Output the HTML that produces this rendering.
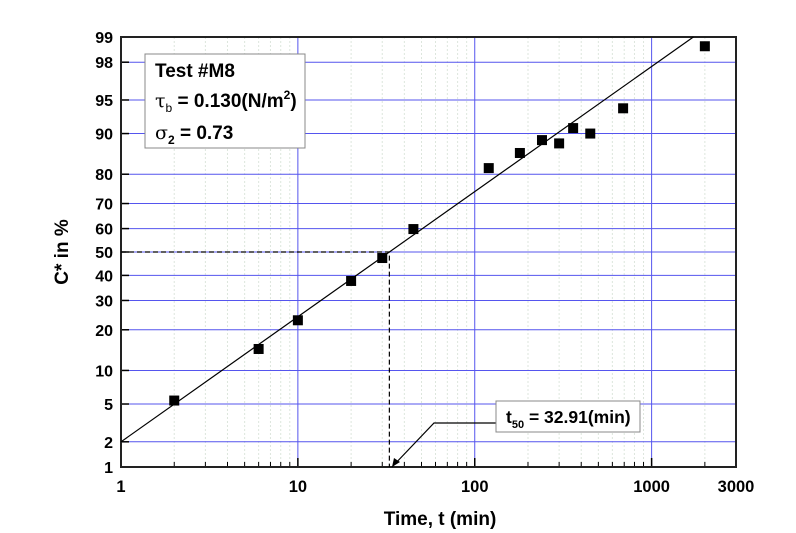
<!DOCTYPE html>
<html><head><meta charset="utf-8"><style>
body{margin:0;background:#fff}
svg{display:block;font-family:"Liberation Sans",sans-serif;font-weight:bold}
</style></head><body>
<svg id="chart" width="796" height="533" viewBox="0 0 796 533">
<g id="grid"></g>
<g id="axes"></g>
<g id="marks"></g>
<text x="440" y="525" font-size="19" text-anchor="middle">Time, t (min)</text>
<text x="0" y="0" font-size="19" text-anchor="middle" transform="translate(68,252) rotate(-90)">C* in %</text>
<g>
<rect x="145" y="54" width="160" height="94" fill="#fff" stroke="#888" stroke-width="1"/>
<text x="155" y="77" font-size="19">Test #M8</text>
<text x="155" y="107" font-size="19"><tspan font-family="DejaVu Serif,serif" font-weight="normal">τ</tspan><tspan font-size="12" font-weight="normal" dy="5">b</tspan><tspan dy="-5"> = 0.130(N/m</tspan><tspan font-size="12" dy="-8">2</tspan><tspan dy="8">)</tspan></text>
<text x="155" y="139" font-size="19"><tspan font-family="DejaVu Serif,serif" font-weight="normal">σ</tspan><tspan font-size="12" dy="5">2</tspan><tspan dy="-5"> = 0.73</tspan></text>
</g>
<g>
<polyline points="392,467 434,423 496,423" fill="none" stroke="#000" stroke-width="1.2"/>
<polygon points="392,467 394,458 400,462" fill="#000"/>
<rect x="496" y="401" width="144" height="31" fill="#fff" stroke="#888"/>
<text x="506" y="423" font-size="17.5">t<tspan font-size="11" dy="5">50</tspan><tspan dy="-5"> = 32.91(min)</tspan></text>
</g>
</svg>
<script>
const xTickVals=[1,10,100,1000,3000];
const xTickLabels=["1","10","100","1000","3000"];
const yTickVals=[1,2,5,10,20,30,40,50,60,70,80,90,95,98,99];
const timeVals=[2,6,10,20,30,45,120,180,240,300,360,450,690,2000];
const cVals=[5.4,14.7,23,37.7,47.4,59.8,81.8,85.8,88.7,88,91,90,94,98.7];
const t50=32.91;
const fitStartPct=2;

const NS="http://www.w3.org/2000/svg";
const L=121,R=736,T=37,B=467;
function erfinv(x){const a=0.147;const ln=Math.log(1-x*x);const t=2/(Math.PI*a)+ln/2;return Math.sign(x)*Math.sqrt(Math.sqrt(t*t-ln/a)-t);}
function erf(x){const s=Math.sign(x);x=Math.abs(x);const t=1/(1+0.3275911*x);const y=1-(((((1.061405429*t-1.453152027)*t)+1.421413741)*t-0.284496736)*t+0.254829592)*t*Math.exp(-x*x);return s*y;}
function probit(p){let z=Math.SQRT2*erfinv(2*p-1);
 for(let i=0;i<3;i++){const c=0.5*(1+erf(z/Math.SQRT2));z-= (c-p)/(Math.exp(-z*z/2)/Math.sqrt(2*Math.PI));}return z;}
const zMax=probit(0.99);
function sx(t){return L+Math.log10(t)*(R-L)/Math.log10(3000);}
function sy(pct){const z=probit(pct/100);return (T+B)/2 - z*(B-T)/(2*zMax);}
function el(tag,attrs,parent){const e=document.createElementNS(NS,tag);for(const k in attrs)e.setAttribute(k,attrs[k]);parent.appendChild(e);return e;}
const grid=document.getElementById('grid'),axes=document.getElementById('axes'),marks=document.getElementById('marks');
for(let d=1;d<=1000;d*=10)for(let m=2;m<=9;m++){const v=d*m;if(v>3000)break;
 const g=el('line',{x1:sx(v),x2:sx(v),y1:T,y2:B,stroke:'#dde6dd','stroke-dasharray':'2,2','stroke-width':1},grid);
 
 
 const tk=el('line',{x1:sx(v),x2:sx(v),y1:B,y2:B-5,stroke:'#000','stroke-width':1},axes);
 
 }
[10,100,1000].forEach(v=>{const g=el('line',{x1:sx(v),x2:sx(v),y1:T,y2:B,stroke:'#5555ee','stroke-width':1},grid);
 
 });
yTickVals.forEach(v=>{const y=sy(v);
 if(v!==1&&v!==99){const g=el('line',{x1:L,x2:R,y1:y,y2:y,stroke:'#5555ee','stroke-width':1},grid);
 
 }
 const tk=el('line',{x1:L,x2:L+8,y1:y,y2:y,stroke:'#000','stroke-width':1.5},axes);
 
 
 const tx=el('text',{x:L-8,y:y+6,'font-size':16,'text-anchor':'end'},axes);tx.textContent=v;
 
 });
xTickVals.forEach((v,i)=>{const x=sx(v);
 const tk=el('line',{x1:x,x2:x,y1:B,y2:B-9,stroke:'#000','stroke-width':1.5},axes);
 
 
 const tx=el('text',{x:x,y:B+25,'font-size':16.5,'text-anchor':'middle'},axes);tx.textContent=xTickLabels[i];
 
 });
const frame=el('rect',{x:L,y:T,width:R-L,height:B-T,fill:'none',stroke:'#222','stroke-width':2},axes);


const z0=probit(fitStartPct/100);const slope=-z0/Math.log10(t50);
const tEnd=Math.pow(10,(zMax-z0)/slope);
const fit=el('line',{x1:sx(1),y1:sy(fitStartPct),x2:sx(tEnd),y2:T,stroke:'#000','stroke-width':1.2},marks);


const dh=el('polyline',{points:`${L},${sy(50)} ${sx(t50)},${sy(50)} ${sx(t50)},${B}`,fill:'none',stroke:'#000','stroke-dasharray':'5,3','stroke-width':1.2},marks);


timeVals.forEach((t,i)=>{const r=el('rect',{x:sx(t)-5,y:sy(cVals[i])-5,width:10,height:10,fill:'#000'},marks);
 
 });
</script>
</body></html>
